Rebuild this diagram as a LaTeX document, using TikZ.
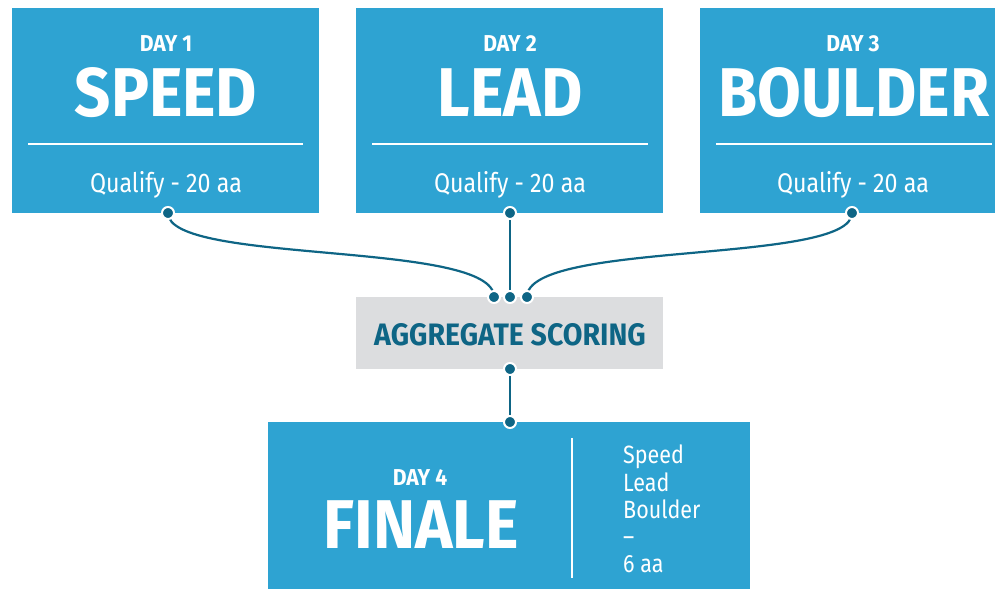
\documentclass[tikz,border=0pt]{standalone}
\usepackage{fontspec}
\setmainfont{Fira Sans}
\newfontfamily\condfont[FakeStretch=0.92]{Fira Sans}
\newfontfamily\bodyfont[FakeStretch=0.86]{Fira Sans}
\definecolor{boxblue}{HTML}{2EA3D2}
\definecolor{aggray}{HTML}{DCDDDF}
\definecolor{tealdk}{HTML}{0E6585}
\begin{document}
\begin{tikzpicture}[x=1pt,y=-1pt,
  bluebox/.style={fill=boxblue, draw=none, inner sep=0pt},
  graybox/.style={fill=aggray, draw=none, inner sep=0pt},
  daytxt/.style={text=white, font=\condfont\bfseries\fontsize{23}{23}\selectfont, inner sep=0pt},
  bigtxt/.style={text=white, font=\condfont\bfseries\fontsize{69}{69}\selectfont, inner sep=0pt},
  subtxt/.style={text=white, font=\bodyfont\fontsize{27}{27}\selectfont, inner sep=0pt},
  sepline/.style={draw=white, line width=2.5pt},
  conn/.style={draw=tealdk, line width=2.2pt},
  dot/.style={circle, fill=tealdk, draw=white, line width=2pt, minimum size=12pt, inner sep=0pt}
]
\useasboundingbox (0,0) rectangle (995,589);
\fill[white] (0,0) rectangle (995,589);

% top boxes
\node[bluebox, minimum width=307pt, minimum height=205pt] (b1) at (165.5,110.5) {};
\node[bluebox, minimum width=307pt, minimum height=205pt] (b2) at (509.5,110.5) {};
\begin{scope}
\clip (0,0) rectangle (995,589);
\node[bluebox, minimum width=307pt, minimum height=205pt] (b3) at (853.5,110.5) {};
\end{scope}

% separator lines
\draw[sepline] (28,144) coordinate (s1a) -- (303,144) coordinate (s1b);
\draw[sepline] (372,144) coordinate (s2a) -- (648,144) coordinate (s2b);
\draw[sepline] (716,144) coordinate (s3a) -- (992,144) coordinate (s3b);

% texts top
\node[daytxt, anchor=base] (d1t) at (166,51) {DAY 1};
\node[daytxt, anchor=base] (d2t) at (510,51) {DAY 2};
\node[daytxt, anchor=base] (d3t) at (853,51) {DAY 3};
\node[bigtxt, anchor=base] (n1) at (166,116) {SPEED};
\node[bigtxt, anchor=base] (n2) at (510,116) {LEAD};
\node[bigtxt, anchor=base] (n3) at (854,116) {BOULDER};
\node[subtxt, anchor=base] (q1) at (166,192) {Qualify - 20 aa};
\node[subtxt, anchor=base] (q2) at (510,192) {Qualify - 20 aa};
\node[subtxt, anchor=base] (q3) at (853,192) {Qualify - 20 aa};

% aggregate box
\node[graybox, minimum width=307pt, minimum height=72pt] (agg) at (509.5,333) {};
\node[text=tealdk, font=\condfont\bfseries\fontsize{31}{31}\selectfont, inner sep=0pt, anchor=base] (aggt) at (510,345) {AGGREGATE SCORING};

% finale box
\node[bluebox, minimum width=482pt, minimum height=167pt] (fin) at (509,505.5) {};
\draw[sepline] (572,438) coordinate (fva) -- (572,578) coordinate (fvb);
\node[daytxt, anchor=base] (d4t) at (420,485) {DAY 4};
\node[bigtxt, anchor=base] (n4) at (421,548) {FINALE};
\node[text=white, font=\bodyfont\fontsize{25}{27.2}\selectfont, inner sep=0pt, anchor=north west, align=left] (ft) at (623,445) {Speed\\Lead\\Boulder\\–\\6 aa};

% dots
\coordinate (p1) at (168,213);
\coordinate (p2) at (510,213);
\coordinate (p3) at (852,213);
\coordinate (a1) at (494,297);
\coordinate (a2) at (510,297);
\coordinate (a3) at (527,297);
\coordinate (a4) at (510,369);
\coordinate (f1) at (510,422);

\draw[conn] (p1) .. controls +(0,52) and +(0,-57) .. (a1);
\draw[conn] (p2) -- (a2);
\draw[conn] (p3) .. controls +(0,52) and +(0,-57) .. (a3);
\draw[conn] (a4) -- (f1);

\foreach \p in {p1,p2,p3,a1,a2,a3,a4,f1}
  \node[dot] (dot-\p) at (\p) {};
\end{tikzpicture}
\end{document}
